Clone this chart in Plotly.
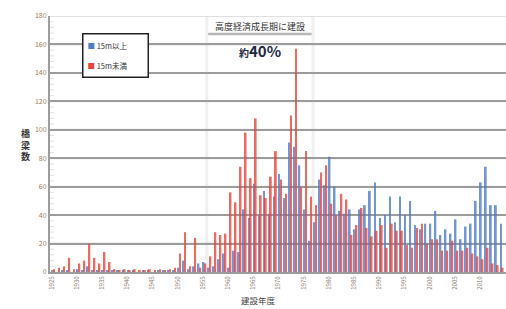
import plotly.graph_objects as go

years = list(range(1925, 2015))

# 15m以上 (blue)
over15 = [1, 0, 1, 1, 0, 2, 1, 4, 1, 1, 1, 1,
          1, 1, 1, 1, 1, 0, 1, 1, 0, 1, 1, 1, 1,
          3, 8, 2, 4, 6, 7, 3, 4, 9, 13, 3, 15, 14,
          44, 38, 62, 40, 57, 41, 53, 69, 52, 91, 88, 75, 44, 22, 35, 65, 61,
          81, 60, 43, 41, 44, 30, 44, 47, 57, 63, 38, 40, 53, 35, 53, 40, 50,
          33, 30, 34, 34, 43, 26, 30, 27, 37, 23, 32, 34, 50, 63, 74, 47, 47, 34]

# 15m未満 (red)
under15 = [2, 3, 4, 10, 2, 6, 8, 20, 10, 6, 14, 7,
           2, 1, 2, 1, 2, 1, 1, 2, 1, 2, 1, 2, 3,
           13, 28, 4, 24, 3, 6, 11, 28, 26, 27, 56, 49, 74,
           98, 66, 108, 54, 52, 67, 85, 65, 55, 110, 157, 60, 85, 53, 47, 70, 75,
           48, 40, 55, 51, 26, 33, 45, 31, 25, 29, 33, 17, 34, 29, 29, 19, 17,
           31, 34, 20, 23, 23, 15, 15, 22, 15, 15, 17, 13, 11, 9, 17, 6, 5, 3]

label_years = list(range(1925, 2015, 5))
y_ticks = list(range(0, 181, 20))
series_names = ["15m以上", "15m未満"]
period_label = "高度経済成長期に建設"
share_label = "約40%"
period = (1955.45, 1976.55)

BLUE = "#4f7dc9"
RED = "#e8463b"
GRID = "#9c9c9c"
FONT = "Noto Sans CJK JP, Arial, sans-serif"

fig = go.Figure()
fig.add_trace(go.Bar(x=years, y=over15, name=series_names[0],
                     marker=dict(color=BLUE, line_width=0), opacity=0.8))
fig.add_trace(go.Bar(x=years, y=under15, name=series_names[1],
                     marker=dict(color=RED, line_width=0), opacity=0.8))

x0 = 1924.36
x1 = x0 + 456 / 5.04

fig.update_layout(
    template="simple_white",
    width=506, height=309,
    margin=dict(l=50, r=0, t=16, b=37, autoexpand=False),
    paper_bgcolor="white", plot_bgcolor="white",
    barmode="group", bargap=0.3, bargroupgap=0.0,
    showlegend=False,
    font=dict(family=FONT, size=7, color="#555"),
    xaxis=dict(range=[x0, x1], tickvals=[y - 0.3 for y in label_years],
               ticktext=[str(y) for y in label_years], tickangle=-90,
               tickfont=dict(size=6, color="#8a7a6a"), automargin=False,
               showgrid=False, showline=True, linecolor=GRID, linewidth=2,
               ticks="", zeroline=False),
    yaxis=dict(range=[0, 180], tickvals=y_ticks,
               showgrid=True, gridcolor=GRID, gridwidth=2,
               showline=True, linecolor=GRID, linewidth=2,
               ticks="inside", ticklen=4, tickcolor=GRID, automargin=False,
               tickfont=dict(size=7, color="#9a8060"), zeroline=False),
)

# horizontal grid lines (drawn explicitly beneath the bars)
for v in y_ticks[1:]:
    fig.add_shape(type="line", xref="paper", yref="y", x0=0, x1=1, y0=v, y1=v,
                  line=dict(color=GRID, width=2), layer="below")

# minor ticks on the y axis line
for v in range(0, 181, 4):
    if v % 20:
        fig.add_shape(type="line", xref="paper", yref="y", x0=0, x1=0.008, y0=v, y1=v,
                      line=dict(color=GRID, width=1))

# period band edges
for xv in period:
    fig.add_shape(type="line", xref="x", yref="paper", x0=xv, x1=xv, y0=0, y1=1,
                  line=dict(color="#d0d0d0", width=3), layer="below")

xm = (period[0] + period[1]) / 2
fig.add_annotation(xref="x", yref="paper", x=xm, y=(272 - 26) / 256, text=period_label,
                   showarrow=False, font=dict(size=9, color="#333", family=FONT),
                   xanchor="center", yanchor="middle")
fig.add_shape(type="line", xref="x", yref="paper", x0=period[0] + 0.3, x1=period[1] - 0.3,
              y0=(272 - 34) / 256, y1=(272 - 34) / 256, line=dict(color="#111", width=2.5))
fig.add_annotation(xref="x", yref="paper", x=xm, y=(272 - 50) / 256,
                   text="<b>約</b><b><span style='font-size:15px'>40%</span></b>",
                   showarrow=False, xanchor="center", yanchor="middle",
                   font=dict(size=10, color="#1f2a44", family=FONT))

# legend box
fig.add_annotation(xref="paper", yref="paper", x=(82 - 50) / 456, y=(272 - 33) / 256,
                   xanchor="left", yanchor="top", align="left", width=56, height=34,
                   text=f"<span style='color:{BLUE}'>■</span> {series_names[0]}<br><br>"
                        f"<span style='color:{RED}'>■</span> {series_names[1]}",
                   showarrow=False, font=dict(size=7.5, color="#333", family=FONT),
                   bgcolor="white", bordercolor="#222", borderwidth=1.5, borderpad=4)

# axis titles
fig.add_annotation(xref="paper", yref="paper", x=(25 - 50) / 456, y=(272 - 145) / 256,
                   xanchor="center", yanchor="middle",
                   text="<b>橋<br>梁<br>数</b>", showarrow=False,
                   font=dict(size=9, color="#333", family=FONT))
fig.add_annotation(xref="paper", yref="paper", x=(258 - 50) / 456, y=(272 - 300) / 256,
                   text="建設年度", showarrow=False, xanchor="center", yanchor="middle",
                   font=dict(size=8.5, color="#444", family=FONT))

fig.write_html("out.html", config={"displayModeBar": False},
               post_script="document.body.style.margin='0';document.body.style.overflow='hidden';")
